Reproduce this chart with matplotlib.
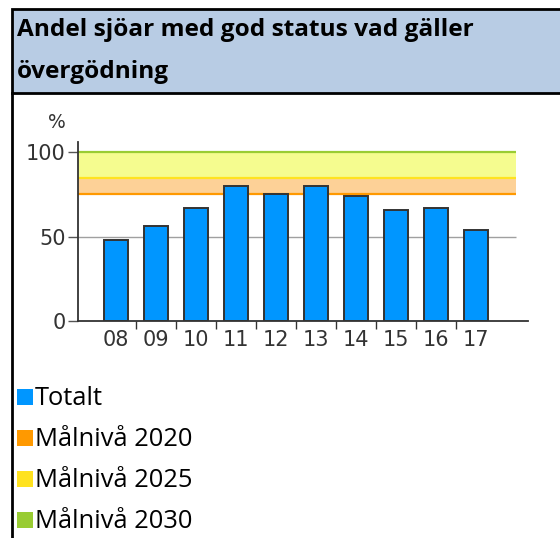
import matplotlib
matplotlib.use("Agg")
import matplotlib.pyplot as plt
from matplotlib.patches import Rectangle
from matplotlib.lines import Line2D

# ---- data ----
years = ["08", "09", "10", "11", "12", "13", "14", "15", "16", "17"]
totalt = [48, 56, 67, 80, 75, 80, 74, 65.5, 67, 54]
target_2020 = 75
target_2025 = 85
target_2030 = 100
y_ticks = [0, 50, 100]
title_lines = ["Andel sjöar med god status vad gäller", "övergödning"]
legend_labels = ["Totalt", "Målnivå 2020", "Målnivå 2025", "Målnivå 2030"]
legend_colors = ["#0096FF", "#FF9900", "#FFE21F", "#99CC33"]

W, H = 560, 538
DPI = 100
fig = plt.figure(figsize=(W / DPI, H / DPI), dpi=DPI)
fig.patch.set_facecolor("white")

def fx(px):
    return px / W

def fy(py):
    return 1 - py / H

# ---- header box ----
hdr = Rectangle((fx(12), fy(93)), fx(560), (93 - 9) / H, transform=fig.transFigure,
                facecolor="#B8CCE4", edgecolor="black", linewidth=2, zorder=1)
fig.patches.append(hdr)
fig.add_artist(Line2D([fx(12), fx(12)], [fy(93), 0], transform=fig.transFigure,
                      color="black", linewidth=2))

title_font = ["Open Sans", "DejaVu Sans"]
fig.text(fx(17), fy(36), title_lines[0], fontsize=17.6, fontweight="bold",
         family=title_font, va="baseline", ha="left", color="black")
fig.text(fx(17), fy(78), title_lines[1], fontsize=17.6, fontweight="bold",
         family=title_font, va="baseline", ha="left", color="black")

# ---- chart ----
left_px, right_px = 78, 527.7
bottom_px, top_px = 320.7, 141.7
ax = fig.add_axes([fx(left_px), fy(bottom_px), (right_px - left_px) / W,
                   (bottom_px - top_px) / H])
ax.set_facecolor("none")
xmin, xmax = -0.95, 10.29
ymax = 106.3
ax.set_xlim(xmin, xmax)
ax.set_ylim(0, ymax)

n = len(years)
xs = list(range(n))
band_end = float(n)

ax.fill_between([xmin, band_end], target_2020, target_2025, color="#FDD197", lw=0, zorder=1)
ax.fill_between([xmin, band_end], target_2025, target_2030, color="#F5FC8F", lw=0, zorder=1)
ax.hlines(50, xmin, band_end, color="#A0A0A0", lw=1, zorder=1.5)
ax.hlines(target_2020, xmin, band_end, color=legend_colors[1], lw=1.6, zorder=2)
ax.hlines(target_2025, xmin, band_end, color=legend_colors[2], lw=1.6, zorder=2)
ax.hlines(target_2030, xmin, band_end, color=legend_colors[3], lw=1.6, zorder=2)

ax.bar(xs, totalt, width=0.6, color=legend_colors[0], edgecolor="#333333",
       linewidth=1.4, zorder=3)

for s in ["top", "right"]:
    ax.spines[s].set_visible(False)
for s in ["left", "bottom"]:
    ax.spines[s].set_color("#333333")
    ax.spines[s].set_linewidth(1.3)
    ax.spines[s].set_zorder(4)

ax.set_yticks(y_ticks)
ax.set_yticklabels([str(v) for v in y_ticks])
ax.tick_params(axis="y", length=7, width=1, color="#555555", pad=2,
               labelsize=15, labelcolor="#333333")
ax.set_xticks(xs)
ax.set_xticklabels(years)
ax.tick_params(axis="x", which="major", length=0, pad=7, labelsize=15,
               labelcolor="#333333")
ax.set_xticks([i + 0.5 for i in range(n - 1)], minor=True)
ax.tick_params(axis="x", which="minor", length=6, width=1, color="#333333")
for lab in ax.get_xticklabels() + ax.get_yticklabels():
    lab.set_family("DejaVu Sans")

fig.text(fx(57), fy(123), "%", fontsize=13.5, color="#333333", ha="center", va="center",
         family="DejaVu Sans")

# ---- legend ----
leg_base = [405, 446, 487, 528]
for lab, col, yb in zip(legend_labels, legend_colors, leg_base):
    fig.patches.append(Rectangle((fx(17), fy(yb)), 16 / W, 16 / H,
                                 transform=fig.transFigure, facecolor=col,
                                 edgecolor="none"))
    fig.text(fx(35), fy(yb), lab, fontsize=18.4, family=["Open Sans", "DejaVu Sans"],
             va="baseline", ha="left", color="black")

fig.savefig("out.png", dpi=DPI)
